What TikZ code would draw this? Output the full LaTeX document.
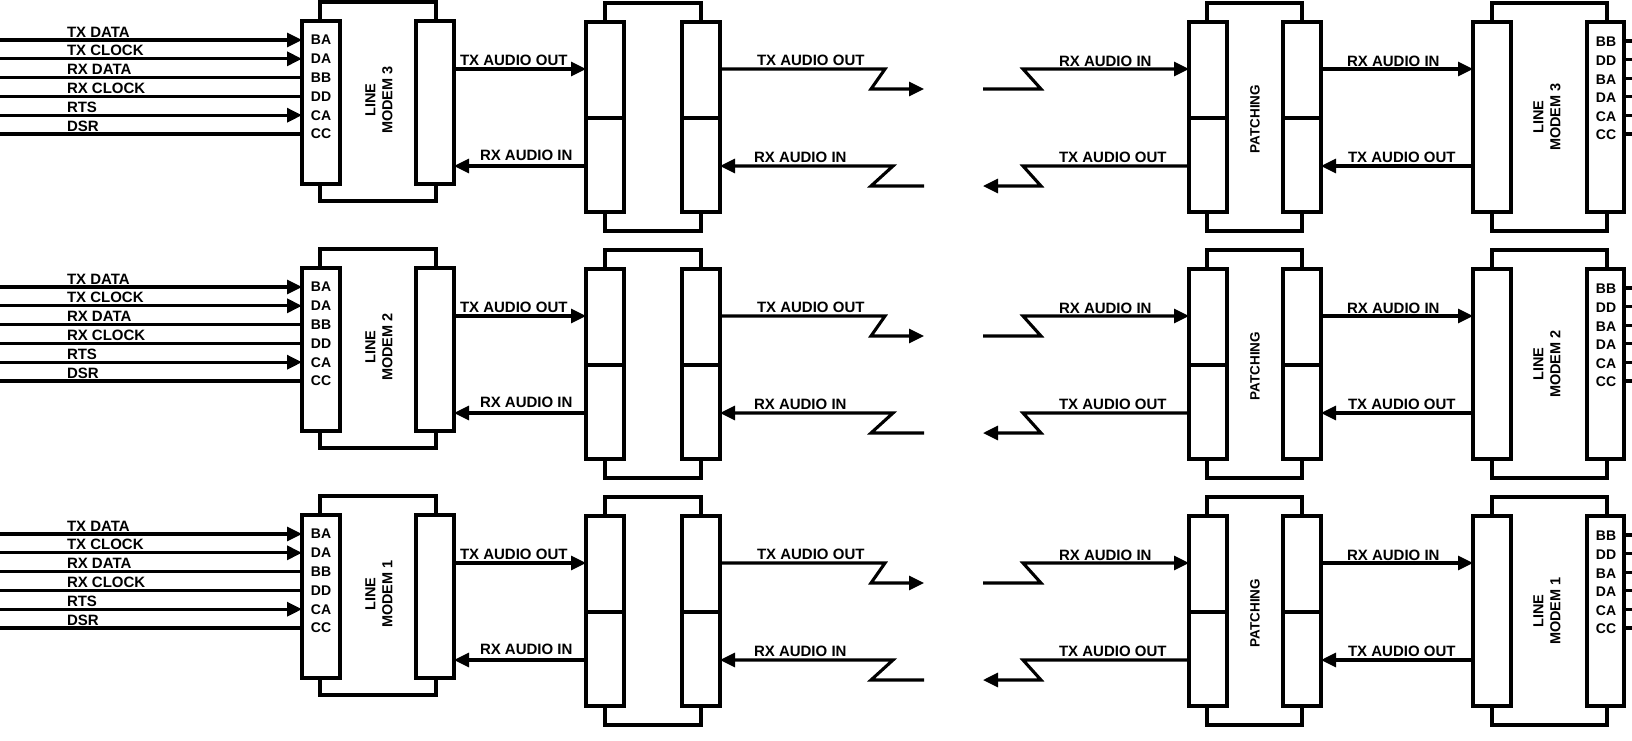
\documentclass[tikz,border=0pt]{standalone}
\usepackage{fontspec}
\setmainfont{Liberation Sans}
\usetikzlibrary{arrows.meta}
\begin{document}
\begin{tikzpicture}[x=1pt,y=-1pt,
  every node/.style={inner sep=0pt, outer sep=0pt},
  wire/.style={line width=3.1pt},
  arr/.style={line width=3.1pt, -{Triangle[length=15pt,width=14pt]}},
  bar/.style={draw, line width=3.1pt, fill=white, anchor=north west, minimum width=38pt},
  frm/.style={line width=3.1pt},
  lbl/.style={font=\fontsize{15}{17}\selectfont\bfseries, anchor=base west},
  pin/.style={font=\fontsize{14}{16}\selectfont\bfseries},
  title/.style={font=\fontsize{14.5}{17}\selectfont\bfseries, rotate=90, align=center},
]
\useasboundingbox (0,0) rectangle (1632,740);
\foreach \r/\n in {0/3,1/2,2/1}{
\begin{scope}[yshift={-247pt*\r}]
  \coordinate (t\r) at (0,69);
  \coordinate (b\r) at (0,166);
  \coordinate (d\r) at (0,118);
  % ---------- left line modem ----------
  \draw[frm] (320,2) rectangle (436,201);
  \node[bar, minimum height=163pt] (lmL\r) at (302,21) {};
  \node[bar, minimum height=163pt] (lmR\r) at (416,21) {};
  \node[title] at (379,100) {LINE\\MODEM \n};
  \foreach \p [count=\i from 0] in {BA,DA,BB,DD,CA,CC}
    \node[pin] at (321,40+18.8*\i) {\p};
  \foreach \t/\s [count=\i from 0] in {TX DATA/arr,TX CLOCK/arr,RX DATA/wire,RX CLOCK/wire,RTS/arr,DSR/wire}{
    \coordinate (in\r\i) at (0,40+18.8*\i);
    \draw[\s] (in\r\i) -- (lmL\r.west |- in\r\i);
    \node[lbl] at (67,37+18.8*\i) {\t};
  }
  % ---------- middle patch block ----------
  \draw[frm] (605,3) rectangle (701,231);
  \node[bar, minimum height=190pt] (mL\r) at (586,22) {};
  \node[bar, minimum height=190pt] (mR\r) at (682,22) {};
  \draw[frm] (mL\r.west |- d\r) -- (mL\r.east |- d\r);
  \draw[frm] (mR\r.west |- d\r) -- (mR\r.east |- d\r);
  \draw[arr] (lmR\r.east |- t\r) -- (mL\r.west |- t\r);
  \draw[arr] (mL\r.west |- b\r) -- (lmR\r.east |- b\r);
  \node[lbl] at (460,65) {TX AUDIO OUT};
  \node[lbl] at (480,160) {RX AUDIO IN};
  % zigzag line breaks
  \coordinate (zt\r) at (924,89);
  \coordinate (zb\r) at (924,186);
  \draw[arr] (mR\r.east |- t\r) -- (885,69) -- (871,89) -- (zt\r);
  \draw[arr] (zb\r) -- (871,186) -- (893,166) -- (mR\r.east |- b\r);
  \node[lbl] at (757,65) {TX AUDIO OUT};
  \node[lbl] at (754,162) {RX AUDIO IN};
  % ---------- right patching block ----------
  \draw[frm] (1207,3) rectangle (1302,231);
  \node[bar, minimum height=190pt] (pL\r) at (1189,22) {};
  \node[bar, minimum height=190pt] (pR\r) at (1283,22) {};
  \draw[frm] (pL\r.west |- d\r) -- (pL\r.east |- d\r);
  \draw[frm] (pR\r.west |- d\r) -- (pR\r.east |- d\r);
  \node[title, font=\fontsize{13.5}{16}\selectfont\bfseries] at (1255,119) {PATCHING};
  \coordinate (yt\r) at (983,89);
  \coordinate (yb\r) at (983,186);
  \draw[wire] (yt\r) -- (1041,89) -- (1023,69) -- ([xshift=-14pt]pL\r.west |- t\r);
  \draw[arr] ([xshift=-14pt]pL\r.west |- t\r) -- (pL\r.west |- t\r);
  \draw[arr] (pL\r.west |- b\r) -- (1023,166) -- (1041,186) -- (yb\r);
  \node[lbl] at (1059,66) {RX AUDIO IN};
  \node[lbl] at (1059,162) {TX AUDIO OUT};
  % ---------- right line modem ----------
  \draw[frm] (1492,3) rectangle (1607,231);
  \node[bar, minimum height=190pt] (rmL\r) at (1473,22) {};
  \node[bar, minimum height=190pt, minimum width=37pt] (rmR\r) at (1587,22) {};
  \node[title] at (1547,117) {LINE\\MODEM \n};
  \foreach \p [count=\i from 0] in {BB,DD,BA,DA,CA,CC}{
    \coordinate (o\r\i) at (1632,41+18.6*\i);
    \draw[wire] (rmR\r.east |- o\r\i) -- (o\r\i);
    \node[pin] at (1606,42+18.6*\i) {\p};
  }
  \draw[arr] (pR\r.east |- t\r) -- (rmL\r.west |- t\r);
  \draw[arr] (rmL\r.west |- b\r) -- (pR\r.east |- b\r);
  \node[lbl] at (1347,66) {RX AUDIO IN};
  \node[lbl] at (1348,162) {TX AUDIO OUT};
\end{scope}
}
\end{tikzpicture}
\end{document}
